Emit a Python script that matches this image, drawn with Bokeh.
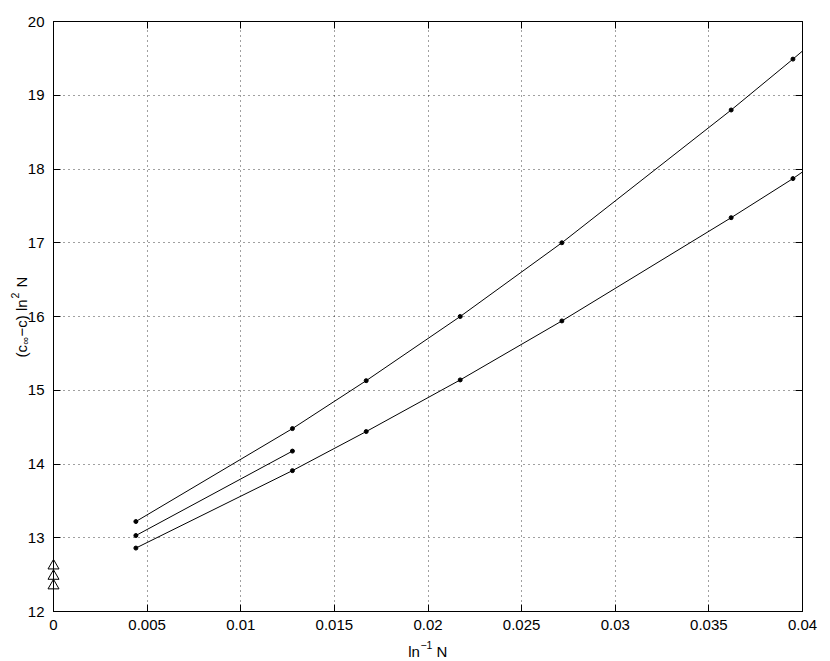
import math
from bokeh.plotting import figure
from bokeh.models import LinearAxis, FixedTicker, PrintfTickFormatter, CustomLabelingPolicy
from bokeh.core.properties import value
from bokeh.embed import file_html
from bokeh.resources import INLINE

# ---------------- data ----------------
x_pts = [0.0044, 0.01276, 0.0167, 0.02172, 0.02715, 0.03619, 0.03949]
upper_y = [13.22, 14.48, 15.13, 16.00, 17.00, 18.80, 19.49]
lower_y = [12.86, 13.91, 14.44, 15.14, 15.94, 17.34, 17.87]
mid_x = [0.0044, 0.01276]
mid_y = [13.03, 14.175]
line_end_x = 0.04
upper_end_y = 19.60
lower_end_y = 17.96
tri_x = [0.0, 0.0, 0.0]
tri_y = [12.62, 12.48, 12.35]

x_ticks = [0, 0.005, 0.01, 0.015, 0.02, 0.025, 0.03, 0.035, 0.04]
x_tick_labels = ["0", "0.005", "0.01", "0.015", "0.02", "0.025", "0.03", "0.035", "0.04"]
y_ticks = [12, 13, 14, 15, 16, 17, 18, 19, 20]
y_tick_labels = ["12", "13", "14", "15", "16", "17", "18", "19", "20"]

FONT = "Liberation Sans"

p = figure(frame_width=749, frame_height=590,
           min_border_left=53, min_border_right=20,
           min_border_top=21, min_border_bottom=50,
           x_range=(0, 0.04), y_range=(12, 20),
           output_backend="svg", toolbar_location=None)
p.background_fill_color = "white"
p.border_fill_color = "white"
p.outline_line_color = "black"
p.outline_line_width = 1

def style_axis(ax, ticks, labels, show_labels=True):
    ax.ticker = FixedTicker(ticks=ticks)
    ax.formatter = PrintfTickFormatter(format="%g")
    ax.major_label_overrides = {t: l for t, l in zip(ticks, labels)}
    ax.major_tick_in = 7
    ax.major_tick_out = 0
    ax.minor_tick_in = 0
    ax.minor_tick_out = 0
    ax.axis_line_color = "black"
    ax.major_tick_line_color = "black"
    ax.major_label_text_font = FONT
    ax.major_label_text_color = "black"
    if show_labels:
        ax.major_label_text_font_size = "15px"
    else:
        ax.major_label_text_font_size = "1px"
        ax.major_label_standoff = 0
        ax.major_label_policy = CustomLabelingPolicy(code="return new Set()")

style_axis(p.xaxis[0], x_ticks, x_tick_labels)
p.xaxis[0].major_label_standoff = 8
style_axis(p.yaxis[0], y_ticks, y_tick_labels)
p.yaxis[0].major_label_standoff = 9

top_ax = LinearAxis()
style_axis(top_ax, x_ticks, x_tick_labels, show_labels=False)
p.add_layout(top_ax, "above")
right_ax = LinearAxis()
style_axis(right_ax, y_ticks, y_tick_labels, show_labels=False)
p.add_layout(right_ax, "right")

p.xgrid[0].ticker = FixedTicker(ticks=x_ticks)
p.ygrid[0].ticker = FixedTicker(ticks=y_ticks)
for g in (p.xgrid[0], p.ygrid[0]):
    g.grid_line_color = "black"
    g.grid_line_dash = "1 4"
    g.grid_line_width = 1
    g.grid_line_alpha = 0.75

# lines
p.line(x_pts + [line_end_x], upper_y + [upper_end_y], line_color="black", line_width=1)
p.line(x_pts + [line_end_x], lower_y + [lower_end_y], line_color="black", line_width=1)
p.line(mid_x, mid_y, line_color="black", line_width=1)

# points
p.scatter(x_pts, upper_y, marker="circle", size=4, fill_color="black", line_color="black")
p.scatter(x_pts, lower_y, marker="circle", size=4, fill_color="black", line_color="black")
p.scatter(mid_x, mid_y, marker="circle", size=4, fill_color="black", line_color="black")

# triangles at x = 0
tri = p.scatter(tri_x, tri_y, marker="triangle", size=11, fill_color=None,
                line_color="black", line_width=1)
tri.level = "overlay"

# x axis label: ln^-1 N   (offsets in screen px, +y = down)
xl_parts = [("ln", 15, -19.8, 40), ("\u22121", 10.5, -7.6, 33.5), ("N", 15, 8.6, 40)]
for txt, fs, xo, yo in xl_parts:
    r = p.text(x=[0.02], y=[12.0], text=[txt], x_offset=xo, y_offset=yo,
               text_font=value(FONT), text_font_size=f"{fs}px", text_color="black",
               text_align="left", text_baseline="alphabetic")
    r.level = "overlay"

# y axis label: (c_inf - c) ln^2 N  (rotated, reads bottom to top)
yl_parts = [("(c", 15, -41.0, -32.5), ("\u221e", 10.5, -28.0, -28.5),
            ("\u2212c) ln", 15, -20.0, -32.5), ("2", 10.5, 18.0, -38.5),
            ("N", 15, 29.0, -32.5)]
for txt, fs, along, base in yl_parts:
    r = p.text(x=[0.0], y=[16.0], text=[txt], angle=math.pi / 2,
               x_offset=base, y_offset=-along,
               text_font=value(FONT), text_font_size=f"{fs}px", text_color="black",
               text_align="left", text_baseline="alphabetic")
    r.level = "overlay"

open("out.html", "w").write(file_html(p, INLINE))
